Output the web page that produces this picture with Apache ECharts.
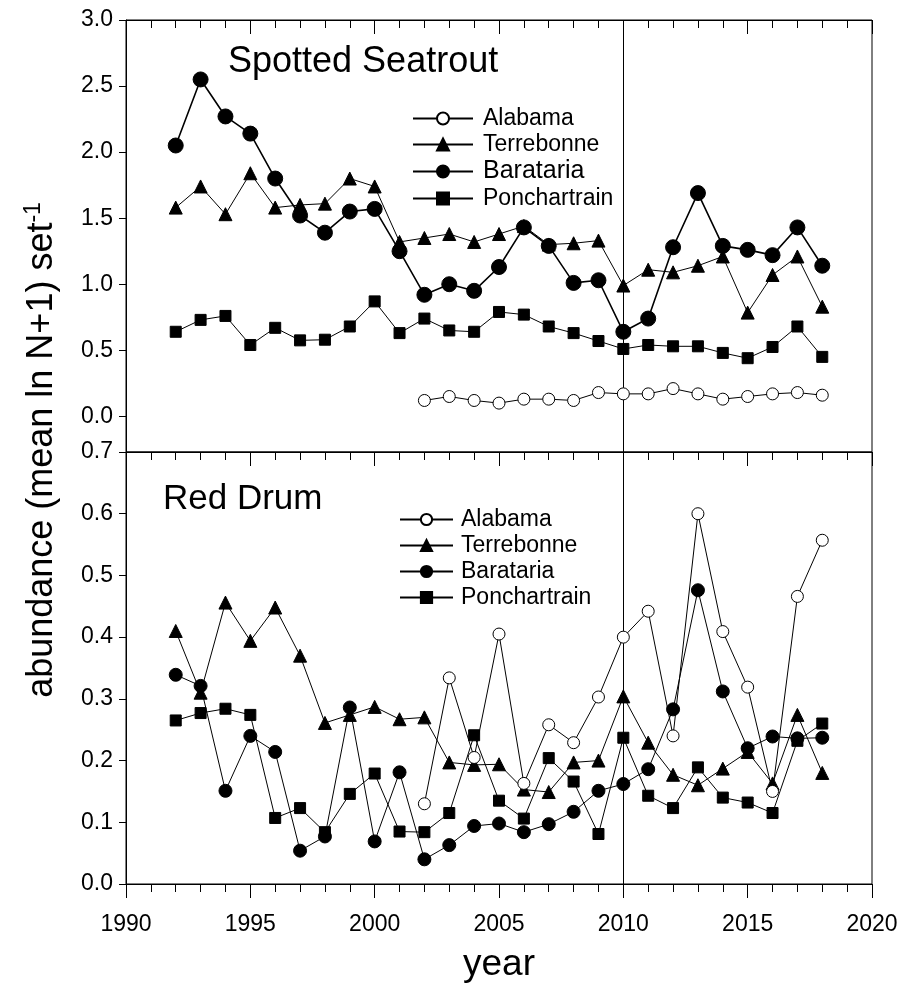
<!DOCTYPE html>
<html>
<head>
<meta charset="utf-8">
<script src="https://cdn.jsdelivr.net/npm/echarts@6/dist/echarts.min.js"></script>
<style>
  html, body { margin: 0; padding: 0; background: #fff; }
  #chart { width: 903px; height: 998px; }
</style>
</head>
<body>
<div id="chart"></div>
<script>
// ---------- data ----------
const years = [1992,1993,1994,1995,1996,1997,1998,1999,2000,2001,2002,2003,2004,2005,2006,2007,2008,2009,2010,2011,2012,2013,2014,2015,2016,2017,2018];

// Spotted Seatrout
const ssAlabama      = [null,null,null,null,null,null,null,null,null,null,0.12,0.15,0.12,0.10,0.13,0.13,0.12,0.18,0.17,0.17,0.21,0.17,0.13,0.15,0.17,0.18,0.16];
const ssTerrebonne   = [1.58,1.74,1.53,1.84,1.58,1.60,1.61,1.80,1.74,1.32,1.35,1.38,1.32,1.38,1.44,1.30,1.31,1.33,0.99,1.11,1.09,1.14,1.21,0.785,1.07,1.21,0.83];
const ssBarataria    = [2.05,2.55,2.27,2.14,1.80,1.52,1.39,1.55,1.57,1.25,0.92,1.00,0.95,1.13,1.43,1.29,1.01,1.03,0.64,0.74,1.28,1.69,1.29,1.26,1.22,1.43,1.14];
const ssPonchartrain = [0.64,0.73,0.76,0.54,0.67,0.575,0.58,0.68,0.87,0.63,0.74,0.65,0.64,0.79,0.77,0.68,0.63,0.57,0.51,0.54,0.53,0.53,0.48,0.44,0.525,0.68,0.45];

// Red Drum
const rdAlabama      = [null,null,null,null,null,null,null,null,null,null,0.13,0.334,0.205,0.405,0.163,0.258,0.229,0.303,0.40,0.442,0.24,0.60,0.409,0.319,0.15,0.466,0.557];
const rdTerrebonne   = [0.41,0.31,0.456,0.394,0.448,0.37,0.261,0.274,0.287,0.267,0.27,0.197,0.193,0.194,0.153,0.149,0.197,0.20,0.304,0.229,0.177,0.16,0.187,0.214,0.163,0.274,0.18];
const rdBarataria    = [0.339,0.321,0.151,0.24,0.214,0.054,0.077,0.286,0.069,0.181,0.04,0.063,0.094,0.098,0.084,0.097,0.117,0.151,0.162,0.186,0.283,0.476,0.312,0.22,0.239,0.236,0.237];
const rdPonchartrain = [0.265,0.277,0.284,0.274,0.107,0.123,0.084,0.146,0.179,0.085,0.084,0.115,0.241,0.135,0.106,0.204,0.166,0.081,0.237,0.143,0.123,0.189,0.14,0.132,0.115,0.232,0.26];

const siteNames = ['Alabama','Terrebonne','Barataria','Ponchartrain'];
const ssTicks = [0,0.5,1.0,1.5,2.0,2.5,3.0];
const markerYear = 2010;

// ---------- helpers ----------
const FONT = "'Liberation Sans', Arial, sans-serif";
const pairs = (vals) => years.map((y, i) => [y, vals[i]]);

const styles = {
  Alabama:      { symbol: 'circle',   size: 12, fill: '#fff' },
  Terrebonne:   { symbol: 'triangle', size: 13, fill: '#000' },
  Barataria:    { symbol: 'circle',   size: 13, fill: '#000' },
  Ponchartrain: { symbol: 'rect',     size: 11, fill: '#000' }
};

function mkSeries(site, tag, vals, axisIdx, extra) {
  const st = styles[site];
  const s = {
    name: site + '|' + tag,
    type: 'line',
    xAxisIndex: axisIdx, yAxisIndex: axisIdx,
    data: pairs(vals),
    symbol: st.symbol,
    symbolSize: st.size,
    showAllSymbol: true,
    connectNulls: false,
    animation: false,
    lineStyle: { color: '#000', width: 1 },
    itemStyle: { color: st.fill, borderColor: '#000', borderWidth: 1, opacity: 1 },
    emphasis: { disabled: true }
  };
  return Object.assign(s, extra || {});
}

const vline = {
  silent: true, symbol: ['none','none'], label: { show: false },
  lineStyle: { color: '#000', width: 1, type: 'solid' },
  data: [{ xAxis: markerYear }], animation: false
};

const series = [
  mkSeries('Alabama', 'SS', ssAlabama, 0, { markLine: vline, z: 5 }),
  mkSeries('Terrebonne', 'SS', ssTerrebonne, 0, { z: 3 }),
  mkSeries('Barataria', 'SS', ssBarataria, 0, { symbolSize: 15, lineStyle: { color: '#000', width: 1.6 }, z: 4 }),
  mkSeries('Ponchartrain', 'SS', ssPonchartrain, 0, { z: 3 }),
  mkSeries('Alabama', 'RD', rdAlabama, 1, { markLine: vline, z: 5 }),
  mkSeries('Terrebonne', 'RD', rdTerrebonne, 1, { z: 3 }),
  mkSeries('Barataria', 'RD', rdBarataria, 1, { z: 4 }),
  mkSeries('Ponchartrain', 'RD', rdPonchartrain, 1, { z: 3 })
];

const axisLine = { show: true, onZero: false, lineStyle: { color: '#000', width: 1 } };

function xAx(grid, position, showLabel, inside, extra) {
  return Object.assign({
    type: 'value', gridIndex: grid, position: position,
    min: 1990, max: 2020, interval: 5,
    axisLine: axisLine,
    axisTick: { show: true, inside: inside, length: 14, lineStyle: { color: '#000', width: 1 } },
    minorTick: { show: true, splitNumber: 5, length: 8, lineStyle: { color: '#000', width: 1 } },
    splitLine: { show: false }, minorSplitLine: { show: false },
    axisLabel: { show: showLabel, color: '#000', fontSize: 23, fontFamily: FONT, margin: 29, formatter: v => String(v) }
  }, extra || {});
}

const legendBase = {
  orient: 'vertical',
  selectedMode: false,
  inactiveColor: '#000'
};

const option = {
  backgroundColor: '#fff',
  animation: false,
  grid: [
    { left: 126, right: 31, top: 20, height: 432, show: true, borderColor: '#000', borderWidth: 1, backgroundColor: 'transparent', outerBoundsMode: 'none' },
    { left: 126, right: 31, top: 452, height: 432, show: true, borderColor: '#000', borderWidth: 1, backgroundColor: 'transparent', outerBoundsMode: 'none' }
  ],
  xAxis: [
    xAx(0, 'bottom', false, false),
    xAx(1, 'bottom', true, false, {
      name: 'year', nameLocation: 'middle', nameGap: 62,
      nameTextStyle: { color: '#000', fontSize: 37, fontFamily: FONT }
    }),
    xAx(0, 'top', false, true)
  ],
  yAxis: [
    {
      type: 'value', gridIndex: 0, min: -0.27, max: 3.0,
      axisLine: axisLine,
      axisTick: { show: true, length: 7, customValues: ssTicks, lineStyle: { color: '#000' } },
      axisLabel: { color: '#000', fontSize: 23, fontFamily: FONT, margin: 13, customValues: ssTicks, formatter: v => v.toFixed(1) },
      splitLine: { show: false }
    },
    {
      type: 'value', gridIndex: 1, min: 0, max: 0.7, interval: 0.1,
      axisLine: axisLine,
      axisTick: { show: true, length: 7, lineStyle: { color: '#000' } },
      axisLabel: { color: '#000', fontSize: 23, fontFamily: FONT, margin: 13, formatter: v => v.toFixed(1) },
      splitLine: { show: false }
    }
  ],
  legend: [
    Object.assign({}, legendBase, {
      left: 407, top: 102, itemWidth: 60, itemHeight: 15, itemGap: 3,
      data: siteNames.map(n => n + '|SS'),
      formatter: name => {
        const n = name.split('|')[0];
        return n === 'Barataria' ? '{big|' + n + '}' : '{t|' + n + '}';
      },
      textStyle: {
        color: '#000', fontSize: 23, fontFamily: FONT,
        rich: {
          t: { fontSize: 23, fontFamily: FONT, color: '#000', padding: [0, 0, 0, 5] },
          big: { fontSize: 25, fontFamily: FONT, color: '#000', padding: [0, 0, 0, 5] }
        }
      }
    }),
    Object.assign({}, legendBase, {
      left: 394, top: 503, itemWidth: 53, itemHeight: 14, itemGap: 3,
      data: siteNames.map(n => n + '|RD'),
      formatter: name => '{t|' + name.split('|')[0] + '}',
      textStyle: {
        color: '#000', fontSize: 23, fontFamily: FONT,
        rich: { t: { fontSize: 23, fontFamily: FONT, color: '#000', padding: [0, 0, 0, 3] } }
      }
    })
  ],
  graphic: [
    { type: 'text', left: 228, top: 44, silent: true,
      style: { text: 'Spotted Seatrout', fill: '#000', font: '36px ' + FONT } },
    { type: 'text', left: 163, top: 482, silent: true,
      style: { text: 'Red Drum', fill: '#000', font: '35px ' + FONT } },
    { type: 'text', x: 42, y: 450, rotation: Math.PI / 2, silent: true,
      style: {
        text: 'abundance (mean ln N+1) set{sup|-1}',
        fill: '#000', font: '36px ' + FONT,
        align: 'center', verticalAlign: 'middle',
        rich: { sup: { fontSize: 23, fontFamily: FONT, fill: '#000', verticalAlign: 'top', padding: [0, 0, 17, 0] } }
      } }
  ],
  series: series
};

const chart = echarts.init(document.getElementById('chart'), null, { renderer: 'canvas' });
chart.setOption(option);
</script>
</body>
</html>
